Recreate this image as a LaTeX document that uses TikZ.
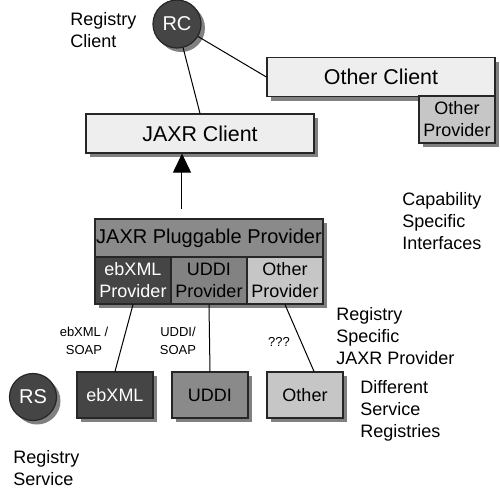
\documentclass[tikz,border=0pt]{standalone}
\usepackage{fontspec}
\setmainfont{Liberation Sans}
\usepackage{tikz}
\usetikzlibrary{arrows.meta,calc,shadows}
\usepackage{xcolor}
\definecolor{DarkGray}{HTML}{454545}
\definecolor{MidGray}{HTML}{8A8A8A}
\definecolor{UddiGray}{HTML}{828282}
\definecolor{LightGray}{HTML}{C6C6C6}
\definecolor{PaleGray}{HTML}{EEEEEE}

\begin{document}
\begin{tikzpicture}[x=0.5pt,y=-0.5pt,>=Latex,
  sh/.style={drop shadow={shadow xshift=2pt,shadow yshift=-2pt,fill=black!50,opacity=1}},
  bx/.style={sh,draw=black!85,line width=0.6pt,inner sep=0pt,align=center,font=\fontsize{9}{11}\selectfont},
  wide/.style={bx,minimum width=114pt,minimum height=19.5pt,font=\fontsize{10.7}{12}\selectfont},
  small/.style={bx,minimum width=38pt,minimum height=23.5pt},
  circ/.style={sh,circle,draw=black!85,line width=0.6pt,fill=DarkGray,text=white,inner sep=0pt,font=\fontsize{10}{12}\selectfont},
  lbl/.style={anchor=west,align=left,inner sep=0pt,font=\fontsize{9}{11}\selectfont},
  tag/.style={align=center,inner sep=0pt,font=\fontsize{6.5}{9}\selectfont}]
\useasboundingbox (0,0) rectangle (500,495);
\node[wide,fill=PaleGray] (othc) at (381,77) {Other Client};
\node[small,fill=LightGray,minimum height=23.5pt] (othp) at (457,119.5) {Other\\Provider};
\node[wide,fill=PaleGray] (jaxrc) at (200,133.5) {JAXR Client};
\node[circ,minimum size=24pt] (rc) at (177,24) {RC};
\node[wide,fill=MidGray,minimum height=19pt,font=\fontsize{10}{12}\selectfont] (plug) at (209,238) {JAXR Pluggable Provider};
\node[small,fill=DarkGray,text=white] (ebp) at (133,280.5) {ebXML\\Provider};
\node[small,fill=UddiGray] (uddip) at (209,280.5) {UDDI\\Provider};
\node[small,fill=LightGray] (othpp) at (285,280.5) {Other\\Provider};
\node[small,fill=DarkGray,text=white,minimum height=23pt] (ebxml) at (115,395) {ebXML};
\node[small,fill=MidGray,minimum height=23pt] (uddi) at (210,395) {UDDI};
\node[small,fill=LightGray,minimum height=23pt] (oth) at (305,395) {Other};
\node[circ,minimum size=23.5pt] (rs) at (33,397) {RS};
\coordinate (ax) at (182,0);
\draw[line width=0.5pt] (rc) -- (jaxrc.north);
\draw[line width=0.5pt] (rc) -- (othc.west);
\draw[line width=0.5pt,-{Triangle[width=9pt,length=9.5pt]},shorten <=4.5pt] (plug.north -| ax) -- (jaxrc.south -| ax);
\draw[line width=0.5pt] (ebp.south) -- (ebxml.north);
\draw[line width=0.5pt] (uddip.south) -- (uddi.north);
\draw[line width=0.5pt] (othpp.south) -- ($(oth.north)+(9,0)$);
\node[lbl] (rclbl) at (70,30) {Registry\\Client};
\node[lbl] (cap) at (402,221) {Capability\\Specific\\Interfaces};
\node[lbl] (rsp) at (336,336) {Registry\\Specific\\JAXR Provider};
\node[lbl] (dsr) at (360,411) {Different\\Service\\Registries};
\node[lbl] (rslbl) at (13,468) {Registry\\Service};
\node[tag] (ebsoap) at (84,341) {ebXML /\\SOAP};
\node[tag] (udsoap) at (178,341) {UDDI/\\SOAP};
\node[tag] (qqq) at (279,342) {???};
\end{tikzpicture}
\end{document}
